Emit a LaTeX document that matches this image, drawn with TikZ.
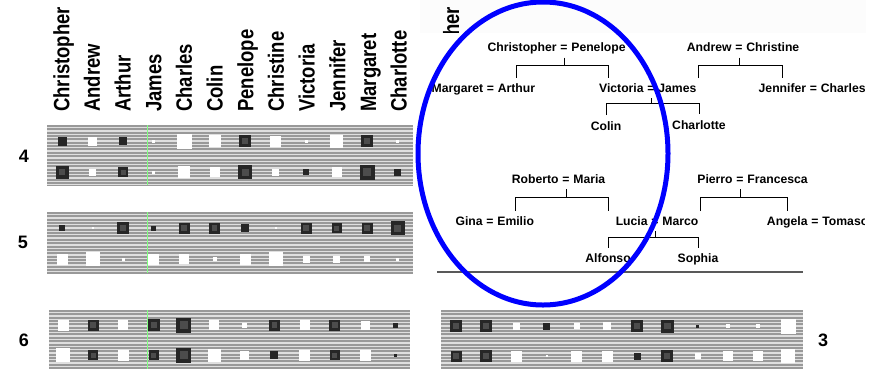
\documentclass[tikz,border=0pt]{standalone}
\usepackage{fontspec}
\setmainfont{Liberation Sans}
\usepackage{graphicx}

% one row of weights: first column x, column step, row y, signed sizes
\newcommand\weights[4]{%
   \foreach \w [count=\i from 0] in {#4} {
      \pgfmathsetmacro\hw{abs(\w)/2}
      \pgfmathsetmacro\cx{#1+#2*\i}
      \ifdim\w pt<0pt
         \fill[black!85] (\cx-\hw,#3-\hw) rectangle (\cx+\hw,#3+\hw);
         \ifdim\hw pt>4.5pt
            \fill[black!70] (\cx-\hw/2,#3-\hw/2) rectangle (\cx+\hw/2,#3+\hw/2);
         \fi
      \else
         \fill[white] (\cx-\hw,#3-\hw) rectangle (\cx+\hw,#3+\hw);
      \fi
   }}

% striped grey band behind the weights
\newcommand\stripes[4]{%
   \begin{scope}
      \clip (#1,#2) rectangle (#3,#4);
      \fill[gray!25] (#1,#2) rectangle (#3,#4);
      \foreach \k in {0,...,18}
         \draw[gray!80,line width=2pt] (#1,#2+1+3.35*\k) -- (#3,#2+1+3.35*\k);
   \end{scope}}

% husband/wife pair set round the = sign
\newcommand\couple[4]{%
   \node[kin,anchor=base] (#1) at (#2) {=};
   \node[kin,anchor=base east] (#1-l) at (#1.base west) {#3};
   \node[kin,anchor=base west] (#1-r) at (#1.base east) {#4};}

\begin{document}
\begin{tikzpicture}[x=1pt,y=-1pt,
   head/.style={rotate=90,anchor=base west,inner sep=0pt,font=\bfseries\fontsize{18.5}{20}\selectfont},
   kin/.style={inner xsep=1.7pt,inner ysep=1pt,outer ysep=5pt,font=\bfseries\fontsize{12.2}{14}\selectfont},
   kinline/.style={line width=1pt},
   lab/.style={font=\bfseries\fontsize{18}{20}\selectfont,inner sep=0pt}]
   \useasboundingbox (0,0) rectangle (886,368);

   % column names
   \foreach \n [count=\i from 0] in {Christopher,Andrew,Arthur,James,Charles,Colin,
         Penelope,Christine,Victoria,Jennifer,Margaret,Charlotte}
      \node[head] (name-\i) at (69.3+30.67*\i,112) {\scalebox{1}[1.2]{\n}};

   \fill[gray!2] (420,0) rectangle (866,33);
   \node[head] (name-r) at (459,112) {\scalebox{1}[1.2]{Christopher}};
   \fill[white] (423,33) rectangle (866,305);

   % the two family trees
   \begin{scope}
      \clip (423,33) rectangle (864,305);
      \couple{cp}{564,51.5}{Christopher}{Penelope}
      \couple{ac}{739,51.5}{Andrew}{Christine}
      \couple{ma}{490.5,92.4}{Margaret}{Arthur}
      \couple{vj}{651,92.4}{Victoria}{James}
      \couple{jc}{813.5,92.4}{Jennifer}{Charles}
      \node[kin,anchor=base] (colin) at (606,130) {Colin};
      \node[kin,anchor=base] (charlotte) at (699,129) {Charlotte};

      \couple{rm}{566,183.4}{Roberto}{Maria}
      \couple{pf}{740,183.4}{Pierro}{Francesca}
      \couple{ge}{490,225.4}{Gina}{Emilio}
      \couple{lm}{655,225.4}{Lucia}{Marco}
      \couple{at}{815,225.4}{Angela}{Tomaso}
      \node[kin,anchor=base] (alfonso) at (608,262.4) {Alfonso};
      \node[kin,anchor=base] (sophia) at (698,262.4) {Sophia};

      \draw[kinline] (cp.south) -- ++(0,8) coordinate (cp-bar);
      \draw[kinline] (ma-r.north) |- (cp-bar) -| ([xshift=-13pt]vj-l.north);
      \draw[kinline] (ac.south) -- ++(0,8) coordinate (ac-bar);
      \draw[kinline] (vj-r.north east) |- (ac-bar) -| (jc-l.north);
      \draw[kinline] (vj.south) -- ++(0,5) coordinate (vj-bar);
      \draw[kinline] (colin.north) |- (vj-bar) -| (charlotte.north);

      \draw[kinline] (rm.south) -- ++(0,8) coordinate (rm-bar);
      \draw[kinline] (ge-r.north) |- (rm-bar) -| ([xshift=-23pt]lm-l.north);
      \draw[kinline] (pf.south) -- ++(0,8) coordinate (pf-bar);
      \draw[kinline] (lm-r.north east) |- (pf-bar) -| (at-l.north);
      \draw[kinline] (lm.south) -- ++(0,6) coordinate (lm-bar);
      \draw[kinline] (alfonso.north) |- (lm-bar) -| (sophia.north);
   \end{scope}
   \draw[black!65,line width=1.8pt] (437,272) -- (803,272);

   % weight bands
   \stripes{47}{125}{413}{185}
   \weights{62}{30.5}{141}{-9,9,-8,3,15,12,-12,11,3,13,-12,3}
   \weights{62}{30.5}{172}{-13,7,-10,3,12,10,-14,7,-6,10,-15,-7}
   \stripes{47}{212}{413}{273}
   \weights{62}{30.5}{228}{-6,2,-12,-5,-11,-11,-8,2,-11,-10,-11,-14}
   \weights{62}{30.5}{259}{11,14,3,11,10,4,11,14,7,7,6,3}
   \stripes{49}{310}{410}{372}
   \weights{63}{30.2}{325}{11,-11,10,-12,-15,10,5,-11,10,-11,9,-5}
   \weights{63}{30.2}{355}{14,-10,11,-10,-15,13,9,-8,11,-10,11,-3}
   \stripes{441}{310}{803}{372}
   \weights{456}{30.2}{326}{-12,-12,7,-7,6,8,-12,-13,-3,4,4,15}
   \weights{456}{30.2}{356}{-11,-12,11,2,11,11,-7,-12,6,10,10,14}
   \foreach \a/\b in {125/185,212/273,310/372}
      \draw[green!50!white,line width=0.8pt] (147,\a) -- (147,\b);

   \node[lab] (lab-4) at (24,156) {4};
   \node[lab] (lab-5) at (23,242) {5};
   \node[lab] (lab-6) at (24,340) {6};
   \node[lab] (lab-3) at (823,340) {3};

   \draw[blue,line width=5pt] (543,153.5) ellipse [x radius=125pt,y radius=151.5pt];
\end{tikzpicture}
\end{document}
